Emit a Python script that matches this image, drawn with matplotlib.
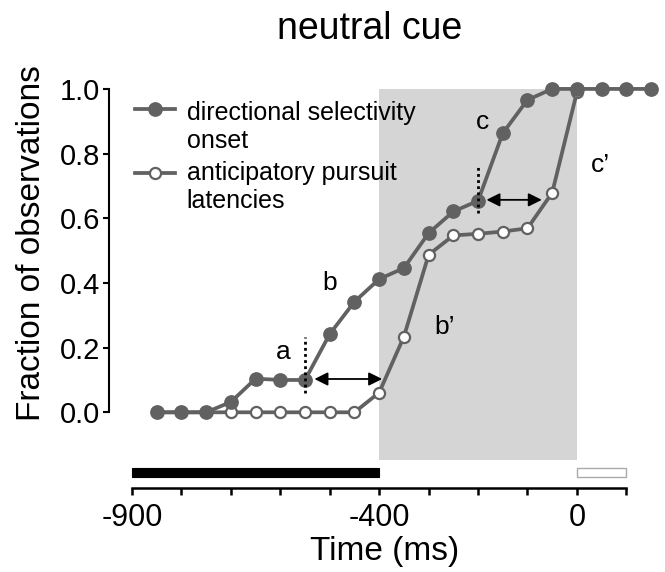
import matplotlib
matplotlib.use("Agg")
import matplotlib.pyplot as plt
from matplotlib.patches import Rectangle

plt.rcParams['font.family'] = ['Liberation Sans', 'DejaVu Sans']

# ---- data ----
time_sel = [-850, -800, -750, -700, -650, -600, -550, -500, -450, -400, -350,
            -300, -250, -200, -150, -100, -50, 0, 50, 100, 150]
selectivity = [0.0, 0.0, 0.0, 0.032, 0.104, 0.10, 0.10, 0.242, 0.342, 0.412, 0.446,
               0.554, 0.621, 0.654, 0.863, 0.966, 1.0, 1.0, 1.0, 1.0, 1.0]

time_lat = [-850, -800, -750, -700, -650, -600, -550, -500, -450, -400, -350,
            -300, -250, -200, -150, -100, -50, 0]
latencies = [0.0, 0.0, 0.0, 0.0, 0.0, 0.0, 0.0, 0.0, 0.0, 0.061, 0.234,
             0.487, 0.547, 0.552, 0.559, 0.569, 0.679, 0.99]

xticks = [-900, -800, -700, -600, -500, -400, -300, -200, -100, 0, 100]
xticklabels = ['-900', '', '', '', '', '-400', '', '', '', '0', '']
yticks = [0.0, 0.2, 0.4, 0.6, 0.8, 1.0]
yticklabels = ['0.0', '0.2', '0.4', '0.6', '0.8', '1.0']

shade_span = (-400, 0)
black_bar = (-900, -400)
white_bar = (0, 100)

gray = '#616161'
shade = '#d5d5d5'

fig = plt.figure(figsize=(6.65, 5.72), dpi=100)
ax = fig.add_axes([0.1639, 0.1469, 0.830, 0.7259])
ax.set_xlim(-946.6, 170)
ax.set_ylim(-0.234, 1.05)

# shaded period
ax.add_patch(Rectangle((shade_span[0], -0.147), shade_span[1] - shade_span[0], 1.147,
                       facecolor=shade, edgecolor='none', zorder=0, clip_on=False))
# bars under the plot
ax.add_patch(Rectangle((black_bar[0], -0.199), black_bar[1] - black_bar[0], 0.028,
                       facecolor='black', edgecolor='black', lw=0.8, zorder=1, clip_on=False))
ax.add_patch(Rectangle((white_bar[0], -0.199), white_bar[1] - white_bar[0], 0.028,
                       facecolor='white', edgecolor='#aaaaaa', lw=1.0, zorder=1, clip_on=False))

# series
ax.plot(time_lat, latencies, color=gray, lw=2.7, marker='o', ms=8,
        mfc='white', mec=gray, mew=1.6, zorder=3, clip_on=False)
ax.plot(time_sel, selectivity, color=gray, lw=2.7, marker='o', ms=9.6,
        mfc=gray, mec=gray, zorder=4, clip_on=False)

# dotted markers
ax.plot([-550, -550], [0.061, 0.234], color='black', lw=2.0, ls=(0, (1, 1.2)), zorder=5)
ax.plot([-200, -200], [0.617, 0.765], color='black', lw=2.0, ls=(0, (1, 1.2)), zorder=5)

# arrows
arrow_kw = dict(arrowstyle='<|-|>,head_length=0.8,head_width=0.4', color='black',
                lw=1.3, mutation_scale=10, shrinkA=0, shrinkB=0)
ax.annotate('', xy=(-394, 0.103), xytext=(-531, 0.103), arrowprops=arrow_kw, zorder=6)
ax.annotate('', xy=(-71, 0.657), xytext=(-183, 0.657), arrowprops=arrow_kw, zorder=6)

# letters
for lbl, x, y in [('a', -594, 0.188), ('b', -501, 0.401), ("b\u2019", -267, 0.265),
                  ('c', -190, 0.899), ("c\u2019", 47, 0.765)]:
    ax.text(x, y, lbl, fontsize=19, ha='center', va='center', zorder=7)

# manual legend
ax.plot([-895, -814], [0.937, 0.937], color=gray, lw=2.7, clip_on=False, zorder=4)
ax.plot([-854], [0.937], marker='o', ms=9.6, color=gray, clip_on=False, zorder=5)
ax.plot([-895, -814], [0.741, 0.741], color=gray, lw=2.7, clip_on=False, zorder=4)
ax.plot([-854], [0.741], marker='o', ms=8, mfc='white', mec=gray, mew=1.6,
        clip_on=False, zorder=5)
ax.text(-789.5, 0.904, 'directional selectivity', fontsize=18, va='baseline', ha='left')
ax.text(-789.5, 0.817, 'onset', fontsize=18, va='baseline', ha='left')
ax.text(-789.5, 0.719, 'anticipatory pursuit', fontsize=18, va='baseline', ha='left')
ax.text(-789.5, 0.632, 'latencies', fontsize=18, va='baseline', ha='left')

# axes styling
for s in ['top', 'right']:
    ax.spines[s].set_visible(False)
ax.spines['left'].set_bounds(0, 1)
ax.spines['bottom'].set_bounds(-900, 100)
ax.spines['left'].set_linewidth(1.5)
ax.spines['bottom'].set_linewidth(1.8)

ax.set_xticks(xticks)
ax.set_xticklabels(xticklabels)
ax.set_yticks(yticks)
ax.set_yticklabels(yticklabels)
ax.tick_params(axis='x', length=5, width=1.8, labelsize=22, pad=6)
ax.tick_params(axis='y', length=4.3, width=1.5, labelsize=21, pad=2)

ax.set_xlabel('Time (ms)', fontsize=24, labelpad=2)
ax.set_ylabel('Fraction of observations', fontsize=24)
ax.yaxis.set_label_coords(-0.113, 0.59)

fig.text(370 / 665, 1 - 39 / 572, 'neutral cue', ha='center', va='baseline', fontsize=27)

fig.savefig('out.png', dpi=100)
